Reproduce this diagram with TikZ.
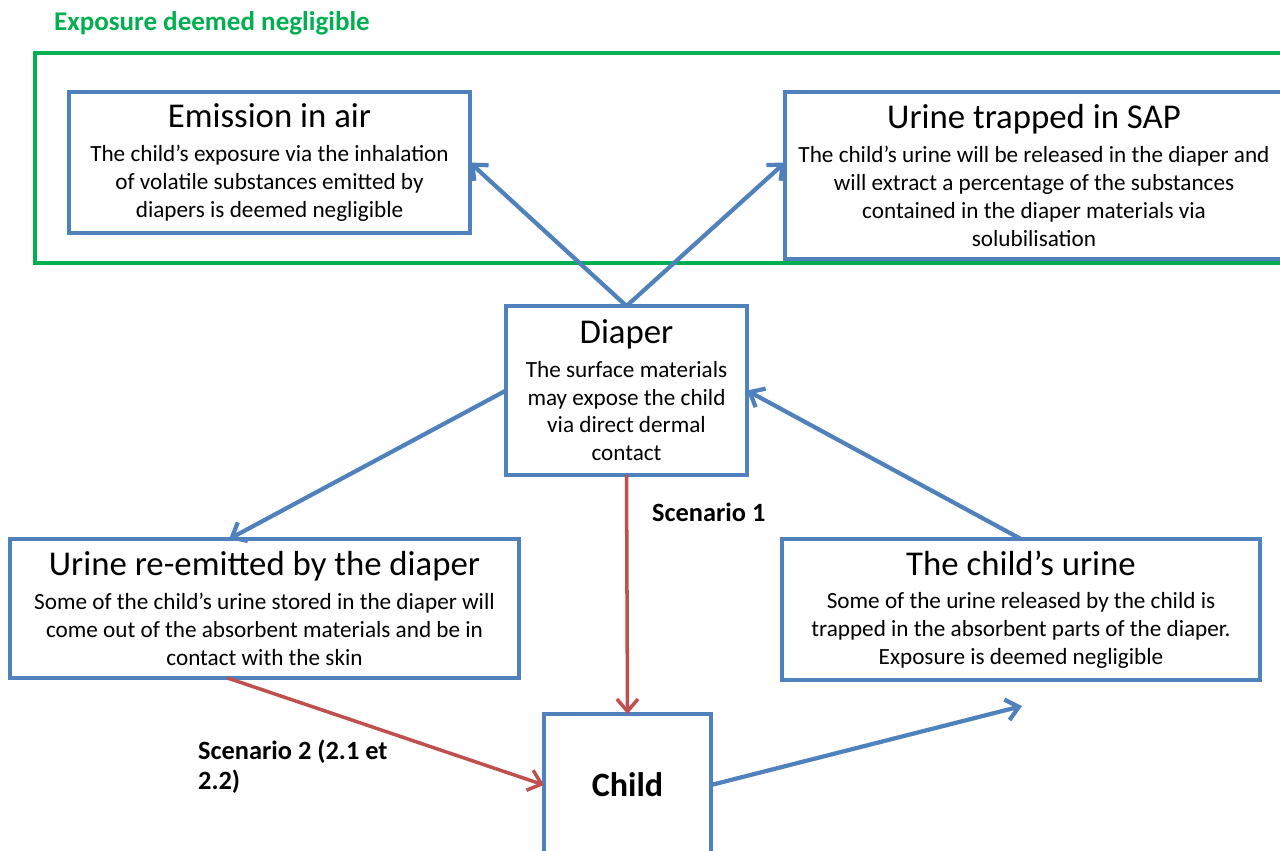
\documentclass[tikz,border=0pt]{standalone}
\usepackage{fontspec}
\setmainfont{Carlito}
\usetikzlibrary{arrows.meta}
\definecolor{boxblue}{RGB}{79,129,189}
\definecolor{flowred}{RGB}{192,80,77}
\definecolor{zonegreen}{RGB}{0,176,80}
\newcommand\boxhead[1]{{\fontsize{19.8}{22}\selectfont #1}}

\begin{document}
\begin{tikzpicture}[
   x=0.02cm,y=-0.02cm,
   >={Straight Barb[length=7pt,width=12pt]},
   box/.style={draw=boxblue,line width=2pt,fill=white,align=center,inner sep=2pt,outer sep=0pt,
      font=\fontsize{13.2}{15.9}\selectfont},
   flow/.style={->,draw=boxblue,line width=2.4pt},
   risk/.style={->,draw=flowred,line width=2pt},
   scen/.style={font=\fontsize{15}{17}\selectfont\bfseries,align=left}]
\useasboundingbox (0,0) rectangle (1280,850);
% zone where exposure is negligible
\draw[zonegreen,line width=2pt] (35,53) rectangle (1295,263);
\node[anchor=west,text=zonegreen,font=\fontsize{15.4}{18}\selectfont\bfseries] (zonetitle) at (48,23) {Exposure deemed negligible};
\node[box,minimum width=8.02cm,minimum height=2.82cm] (emission) at (269.5,162.5) {\boxhead{Emission in air}\\[3pt]
   The child’s exposure via the inhalation\\ of volatile substances emitted by\\ diapers is deemed negligible};
\node[box,minimum width=9.96cm,minimum height=3.34cm] (sap) at (1034,175.5) {\boxhead{Urine trapped in SAP}\\[3pt]
   The child’s urine will be released in the diaper and\\ will extract a percentage of the substances\\ contained in the diaper materials via\\ solubilisation};
\node[box,minimum width=4.82cm,minimum height=3.38cm] (diaper) at (626.5,390.5) {\boxhead{Diaper}\\[3pt]
   The surface materials\\ may expose the child\\ via direct dermal\\ contact};
\node[box,minimum width=10.18cm,minimum height=2.78cm] (reemit) at (264.5,608.5) {\boxhead{Urine re-emitted by the diaper}\\[3pt]
   Some of the child’s urine stored in the diaper will\\ come out of the absorbent materials and be in\\ contact with the skin};
\node[box,minimum width=9.56cm,minimum height=2.82cm] (urine) at (1021,609.5) {\boxhead{The child’s urine}\\[3pt]
   Some of the urine released by the child is\\ trapped in the absorbent parts of the diaper.\\ Exposure is deemed negligible};
\node[box,minimum width=3.34cm,minimum height=2.84cm,font=\fontsize{19.4}{22}\selectfont\bfseries] (child) at (627.5,785) {Child};
\coordinate (out) at (1022,706);
% pathways
\draw[flow] (diaper.north) -- (emission.east);
\draw[flow] (diaper.north) -- (sap.177);
\draw[flow] (diaper.west) -- (reemit.117);
\draw[flow] (urine.north) -- (diaper.east);
\draw[flow] (child.east) -- (out);
\draw[risk] (diaper.south) -- (child.north);
\draw[risk] (reemit.242) -- (child.west);
\node[scen,anchor=west] (scen1) at (646,512) {Scenario 1};
\node[scen,anchor=north west] (scen2) at (192,734) {Scenario 2 (2.1 et\\2.2)};
\end{tikzpicture}
\end{document}
